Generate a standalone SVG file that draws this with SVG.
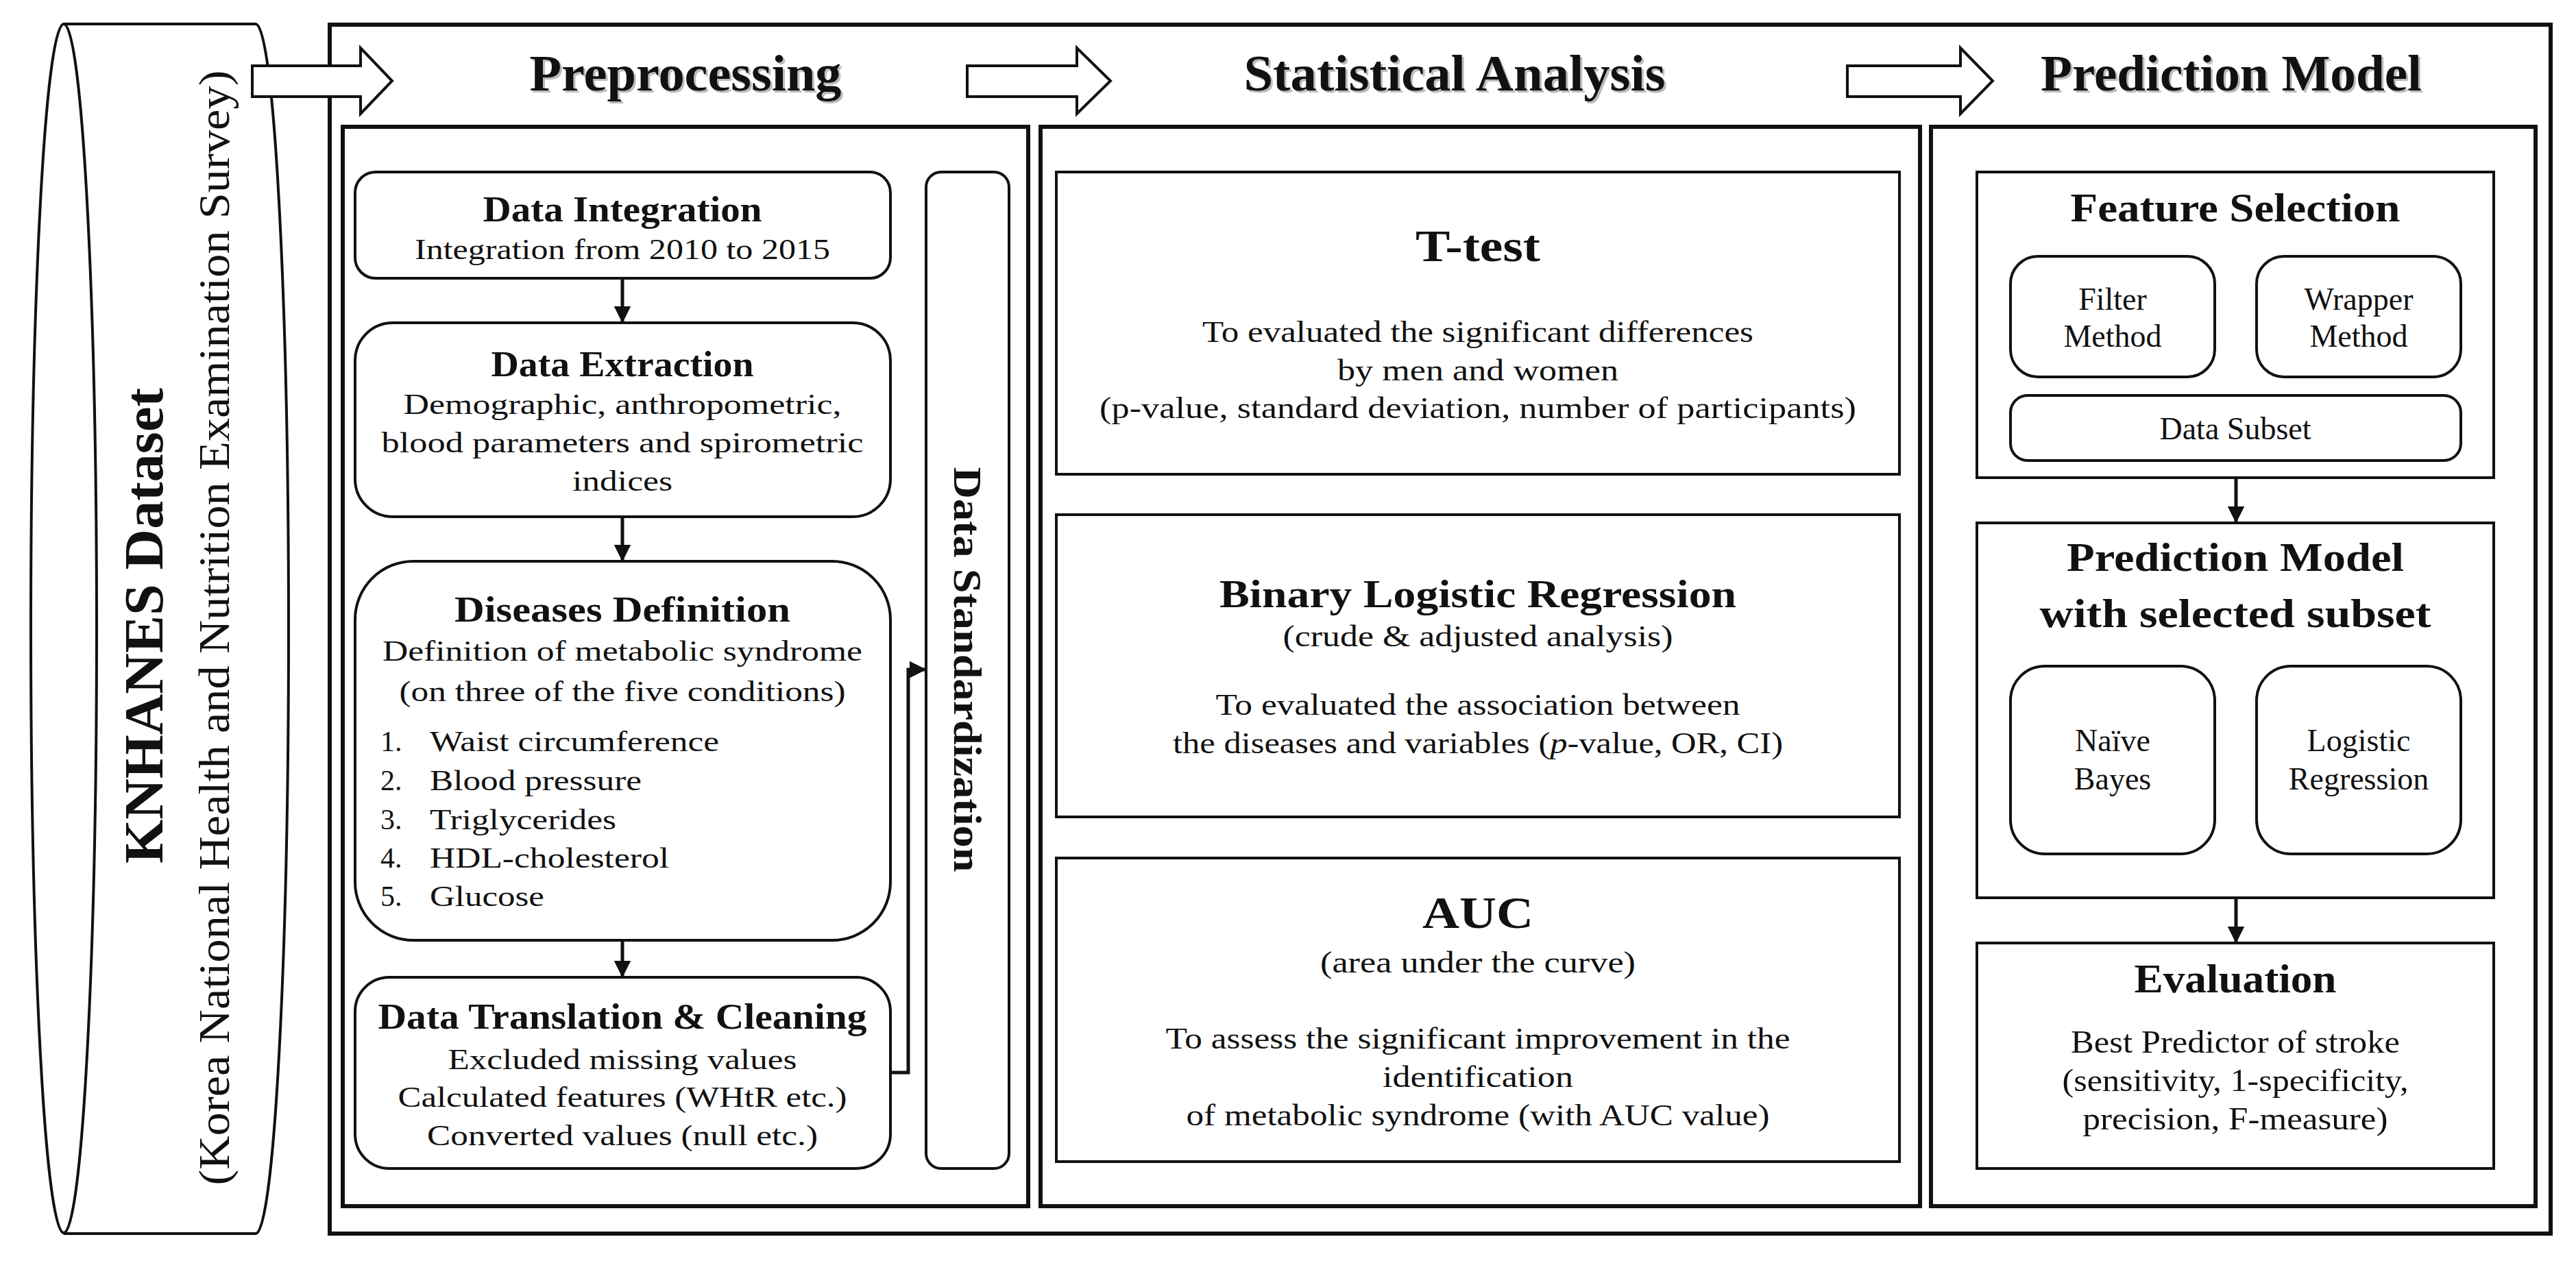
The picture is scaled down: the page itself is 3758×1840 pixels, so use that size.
<svg xmlns="http://www.w3.org/2000/svg" width="3758" height="1840" viewBox="0 0 3758 1840">
<style>
text{font-family:"Liberation Serif","Times New Roman",serif;fill:#111;text-anchor:middle}
.b{font-weight:bold}
.h{font-size:74px;font-weight:bold}
.hs{fill:#bbb}
.pt{font-size:52px;font-weight:bold}
.pb{font-size:42px}
.st{font-size:44px}
.ft{font-size:60px;font-weight:bold}
.fb{font-size:46px}
.box{fill:#fff;stroke:#111;stroke-width:4}
.pan{fill:none;stroke:#111;stroke-width:6}
.con{fill:none;stroke:#111;stroke-width:5}
.harrow{fill:#fff;stroke:#111;stroke-width:4;stroke-linejoin:miter}
</style>
<defs>
<marker id="ah" viewBox="0 0 10 10" refX="9" refY="5" markerWidth="5" markerHeight="5" orient="auto" markerUnits="strokeWidth">
<path d="M0,0 L10,5 L0,10 z" fill="#111"/>
</marker>
</defs>
<rect width="3758" height="1840" fill="#fff"/>

<g id="dataset">
<path d="M93,35 L373,35 A48,882 0 0 1 373,1800 L93,1800" class="box"/>
<ellipse cx="93" cy="917" rx="48" ry="882" class="box"/>
<text class="b" font-size="80" transform="translate(237,913) rotate(-90)" textLength="694" lengthAdjust="spacingAndGlyphs">KNHANES Dataset</text>
<text font-size="64" transform="translate(334,916) rotate(-90)" textLength="1627" lengthAdjust="spacingAndGlyphs">(Korea National Health and Nutrition Examination Survey)</text>
</g>

<rect x="481" y="36" width="3240" height="1764" class="pan" stroke-width="5"/>

<g id="arrows-big">
<path d="M368,96 H526 V70 L572,118 L526,166 V141 H368 Z" class="harrow"/>
<path d="M1411,96 H1571 V70 L1620,118 L1571,166 V141 H1411 Z" class="harrow"/>
<path d="M2695,96 H2860 V70 L2907,118 L2860,166 V141 H2695 Z" class="harrow"/>
</g>

<g id="headers">
<text class="h hs" x="1003" y="135" textLength="455" lengthAdjust="spacingAndGlyphs">Preprocessing</text>
<text class="h" x="1000" y="132" textLength="455" lengthAdjust="spacingAndGlyphs">Preprocessing</text>
<text class="h hs" x="2125" y="135" textLength="615" lengthAdjust="spacingAndGlyphs">Statistical Analysis</text>
<text class="h" x="2122" y="132" textLength="615" lengthAdjust="spacingAndGlyphs">Statistical Analysis</text>
<text class="h hs" x="3258" y="135" textLength="556" lengthAdjust="spacingAndGlyphs">Prediction Model</text>
<text class="h" x="3255" y="132" textLength="556" lengthAdjust="spacingAndGlyphs">Prediction Model</text>
</g>

<g id="panels">
<rect x="500" y="185" width="1000" height="1575" class="pan"/>
<rect x="1518" y="185" width="1283" height="1575" class="pan"/>
<rect x="2817" y="185" width="882" height="1575" class="pan"/>
</g>

<g id="data-integration">
<rect x="518" y="251" width="781" height="155" rx="30" class="box"/>
<text class="pt" x="908" y="323" textLength="407" lengthAdjust="spacingAndGlyphs">Data Integration</text>
<text class="pb" x="908" y="378" textLength="606" lengthAdjust="spacingAndGlyphs">Integration from 2010 to 2015</text>
</g>
<g id="data-extraction">
<rect x="518" y="471" width="781" height="283" rx="55" class="box"/>
<text class="pt" x="908" y="549" textLength="383" lengthAdjust="spacingAndGlyphs">Data Extraction</text>
<text class="pb" x="908" y="604" textLength="639" lengthAdjust="spacingAndGlyphs">Demographic, anthropometric,</text>
<text class="pb" x="908" y="660" textLength="703" lengthAdjust="spacingAndGlyphs">blood parameters and spirometric</text>
<text class="pb" x="908" y="716" textLength="146" lengthAdjust="spacingAndGlyphs">indices</text>
</g>
<g id="diseases-definition">
<rect x="518" y="819" width="781" height="553" rx="85" class="box"/>
<text class="pt" x="908" y="907" textLength="490" lengthAdjust="spacingAndGlyphs">Diseases Definition</text>
<text class="pb" x="908" y="964" textLength="700" lengthAdjust="spacingAndGlyphs">Definition of metabolic syndrome</text>
<text class="pb" x="908" y="1023" textLength="651" lengthAdjust="spacingAndGlyphs">(on three of the five conditions)</text>
<g class="pb" style="text-anchor:start">
<text x="555" y="1096" style="text-anchor:start">1.</text><text x="627" y="1096" style="text-anchor:start" textLength="422" lengthAdjust="spacingAndGlyphs">Waist circumference</text>
<text x="555" y="1153" style="text-anchor:start">2.</text><text x="627" y="1153" style="text-anchor:start" textLength="309" lengthAdjust="spacingAndGlyphs">Blood pressure</text>
<text x="555" y="1210" style="text-anchor:start">3.</text><text x="627" y="1210" style="text-anchor:start" textLength="272" lengthAdjust="spacingAndGlyphs">Triglycerides</text>
<text x="555" y="1266" style="text-anchor:start">4.</text><text x="627" y="1266" style="text-anchor:start" textLength="349" lengthAdjust="spacingAndGlyphs">HDL-cholesterol</text>
<text x="555" y="1322" style="text-anchor:start">5.</text><text x="627" y="1322" style="text-anchor:start" textLength="167" lengthAdjust="spacingAndGlyphs">Glucose</text>
</g>
</g>
<g id="data-translation">
<rect x="518" y="1426" width="781" height="279" rx="50" class="box"/>
<text class="pt" x="908" y="1501" textLength="713" lengthAdjust="spacingAndGlyphs">Data Translation &amp; Cleaning</text>
<text class="pb" x="908" y="1560" textLength="509" lengthAdjust="spacingAndGlyphs">Excluded  missing values</text>
<text class="pb" x="908" y="1615" textLength="655" lengthAdjust="spacingAndGlyphs">Calculated features (WHtR etc.)</text>
<text class="pb" x="908" y="1671" textLength="570" lengthAdjust="spacingAndGlyphs">Converted  values (null etc.)</text>
</g>
<g id="data-standardization">
<rect x="1351" y="251" width="121" height="1454" rx="22" class="box"/>
<text class="b" font-size="56" transform="translate(1392,977) rotate(90)" textLength="591" lengthAdjust="spacingAndGlyphs">Data Standardization</text>
</g>

<g id="t-test">
<rect x="1541" y="251" width="1230" height="441" class="box"/>
<text class="b" font-size="66" x="2156" y="381" textLength="182" lengthAdjust="spacingAndGlyphs">T-test</text>
<text class="st" x="2156" y="499" textLength="804" lengthAdjust="spacingAndGlyphs">To evaluated  the significant differences</text>
<text class="st" x="2156" y="555" textLength="410" lengthAdjust="spacingAndGlyphs">by men and women</text>
<text class="st" x="2156" y="610" textLength="1104" lengthAdjust="spacingAndGlyphs">(p-value, standard deviation, number of participants)</text>
</g>
<g id="binary-logistic">
<rect x="1541" y="751" width="1230" height="441" class="box"/>
<text class="b" font-size="58" x="2156" y="886" textLength="754" lengthAdjust="spacingAndGlyphs">Binary Logistic Regression</text>
<text class="st" x="2156" y="943" textLength="569" lengthAdjust="spacingAndGlyphs">(crude &amp; adjusted  analysis)</text>
<text class="st" x="2156" y="1043" textLength="765" lengthAdjust="spacingAndGlyphs">To evaluated  the association between</text>
<text class="st" x="2156" y="1099" textLength="890" lengthAdjust="spacingAndGlyphs">the diseases and variables (<tspan font-style="italic">p</tspan>-value, OR, CI)</text>
</g>
<g id="auc">
<rect x="1541" y="1252" width="1230" height="443" class="box"/>
<text class="b" font-size="66" x="2156" y="1354" textLength="162" lengthAdjust="spacingAndGlyphs">AUC</text>
<text class="st" x="2156" y="1419" textLength="460" lengthAdjust="spacingAndGlyphs">(area under  the curve)</text>
<text class="st" x="2156" y="1530" textLength="911" lengthAdjust="spacingAndGlyphs">To assess the significant improvement  in the</text>
<text class="st" x="2156" y="1586" textLength="278" lengthAdjust="spacingAndGlyphs">identification</text>
<text class="st" x="2156" y="1642" textLength="851" lengthAdjust="spacingAndGlyphs">of metabolic syndrome (with AUC value)</text>
</g>

<g id="feature-selection">
<rect x="2884" y="251" width="754" height="446" class="box"/>
<text class="ft" x="3261" y="323" textLength="481" lengthAdjust="spacingAndGlyphs">Feature Selection</text>
</g>
<g id="filter-method">
<rect x="2933" y="374" width="298" height="176" rx="40" class="box"/>
<text class="fb" x="3082" y="452">Filter</text>
<text class="fb" x="3082" y="506">Method</text>
</g>
<g id="wrapper-method">
<rect x="3292" y="374" width="298" height="176" rx="40" class="box"/>
<text class="fb" x="3441" y="452">Wrapper</text>
<text class="fb" x="3441" y="506">Method</text>
</g>
<g id="data-subset">
<rect x="2933" y="577" width="657" height="95" rx="25" class="box"/>
<text class="fb" x="3261" y="641">Data Subset</text>
</g>
<g id="prediction-model">
<rect x="2884" y="763" width="754" height="547" class="box"/>
<text class="ft" x="3261" y="833" textLength="492" lengthAdjust="spacingAndGlyphs">Prediction  Model</text>
<text class="ft" x="3261" y="915" textLength="571" lengthAdjust="spacingAndGlyphs">with selected subset</text>
</g>
<g id="naive-bayes">
<rect x="2933" y="972" width="298" height="274" rx="50" class="box"/>
<text class="fb" x="3082" y="1096">Naïve</text>
<text class="fb" x="3082" y="1152">Bayes</text>
</g>
<g id="logistic-regression">
<rect x="3292" y="972" width="298" height="274" rx="50" class="box"/>
<text class="fb" x="3441" y="1096">Logistic</text>
<text class="fb" x="3441" y="1152">Regression</text>
</g>
<g id="evaluation">
<rect x="2884" y="1376" width="754" height="329" class="box"/>
<text class="ft" x="3261" y="1448" textLength="295" lengthAdjust="spacingAndGlyphs">Evaluation</text>
<text class="fb" x="3261" y="1536" textLength="480" lengthAdjust="spacingAndGlyphs">Best Predictor of stroke</text>
<text class="fb" x="3261" y="1592" textLength="505" lengthAdjust="spacingAndGlyphs">(sensitivity, 1-specificity,</text>
<text class="fb" x="3261" y="1648" textLength="445" lengthAdjust="spacingAndGlyphs">precision, F-measure)</text>
</g>

<g id="connectors">
<line x1="908" y1="406" x2="908" y2="469" class="con" marker-end="url(#ah)"/>
<line x1="908" y1="754" x2="908" y2="817" class="con" marker-end="url(#ah)"/>
<line x1="908" y1="1372" x2="908" y2="1424" class="con" marker-end="url(#ah)"/>
<polyline points="1299,1565 1325,1565 1325,977 1349,977" class="con" marker-end="url(#ah)"/>
<line x1="3262" y1="697" x2="3262" y2="761" class="con" marker-end="url(#ah)"/>
<line x1="3262" y1="1310" x2="3262" y2="1374" class="con" marker-end="url(#ah)"/>
</g>
</svg>
